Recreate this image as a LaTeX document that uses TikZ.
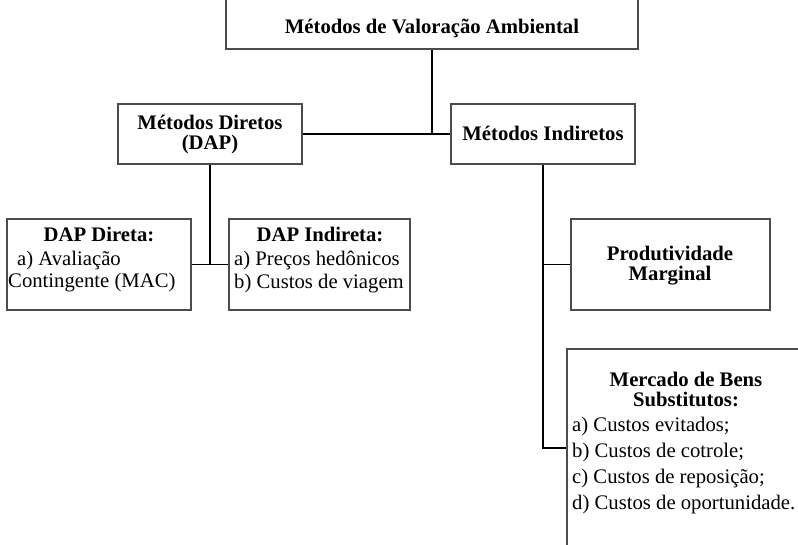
\documentclass[tikz,border=0pt]{standalone}
\usepackage{fontspec}
\setmainfont{Liberation Serif}
\begin{document}
\begin{tikzpicture}[x=1pt,y=-1pt,
  box/.style={draw=black!70, line width=1.1pt, rectangle, inner sep=0pt},
  link/.style={draw=black, line width=1.9pt},
  hd/.style={font=\fontsize{20.7}{20}\selectfont\bfseries, inner sep=0pt, anchor=base},
  tx/.style={font=\fontsize{20.7}{20}\selectfont, inner sep=0pt, anchor=base west}]
\useasboundingbox (0,0) rectangle (798,544);
\clip (0,0) rectangle (798,544);

% boxes
\node[box, minimum width=412pt, minimum height=59pt] (root) at (432,19.5) {};
\node[box, minimum width=184pt, minimum height=60pt] (dir)  at (210,134) {};
\node[box, minimum width=184pt, minimum height=60pt] (ind)  at (543,134) {};
\node[box, minimum width=184pt, minimum height=91pt] (dd)   at (99,264.5) {};
\node[box, minimum width=181pt, minimum height=91pt] (di)   at (319.5,264.5) {};
\node[box, minimum width=199pt, minimum height=91pt] (prod) at (670.5,264.5) {};
\node[box, minimum width=238pt, minimum height=198pt] (merc) at (686,448) {};

% connectors
\draw[link] (root.south) -- (root.south |- dir.east);
\draw[link] (dir.east) -- (ind.west);
\draw[link] (dir.south) -- (dir.south |- dd.east);
\draw[link] (dd.east) -- (di.west);
\draw[link] (ind.south) -- (ind.south |- merc.west) -- (merc.west);
\draw[link] (ind.south |- prod.west) -- (prod.west);

% texts
\node[hd] (t-root) at (432,33) {Métodos de Valoração Ambiental};

\node[hd] (t-dir1) at (210,129) {Métodos Diretos};
\node[hd] (t-dir2) at (210,149) {(DAP)};

\node[hd] (t-ind) at (543,140) {Métodos Indiretos};

\node[hd] (t-dd) at (99,241) {DAP Direta:};
\node[tx] (t-dd1) at (17,265) {a) Avaliação};
\node[tx] (t-dd2) at (8,287) {Contingente (MAC)};

\node[hd] (t-di) at (320,241) {DAP Indireta:};
\node[tx] (t-di1) at (234,265) {a) Preços hedônicos};
\node[tx] (t-di2) at (234,288) {b) Custos de viagem};

\node[hd] (t-prod1) at (670,260) {Produtividade};
\node[hd] (t-prod2) at (670,280) {Marginal};

\node[hd] (t-merc1) at (686,386) {Mercado de Bens};
\node[hd] (t-merc2) at (686,406) {Substitutos:};
\node[tx] (t-merc3) at (572,431) {a) Custos evitados;};
\node[tx] (t-merc4) at (572,457) {b) Custos de cotrole;};
\node[tx] (t-merc5) at (572,483) {c) Custos de reposição;};
\node[tx] (t-merc6) at (572,509) {d) Custos de oportunidade.};
\end{tikzpicture}
\end{document}
